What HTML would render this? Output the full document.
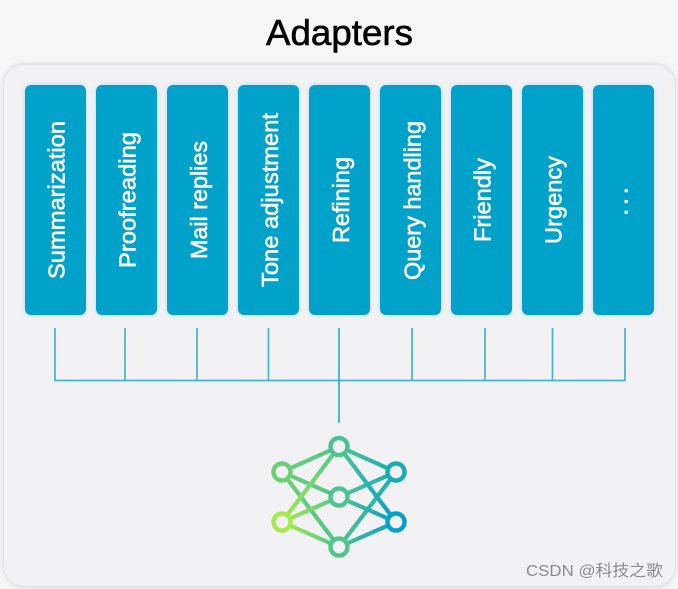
<!DOCTYPE html>
<html><head><meta charset="utf-8"><style>
html,body{margin:0;padding:0;background:#f6f6f6}
svg{display:block}
text{font-family:"Liberation Sans",sans-serif}
</style></head><body>
<svg width="678" height="589" viewBox="0 0 678 589" xmlns="http://www.w3.org/2000/svg">
<defs>
<filter id="ps" x="-5%" y="-5%" width="110%" height="110%"><feGaussianBlur stdDeviation="2.5"/></filter>
<filter id="cs" x="-20%" y="-5%" width="140%" height="110%"><feGaussianBlur stdDeviation="2.5"/></filter>
<linearGradient id="a" gradientUnits="userSpaceOnUse" x1="282" y1="0" x2="339" y2="0"><stop offset="0" stop-color="#6ccf75"/><stop offset="1" stop-color="#4fc490"/></linearGradient>
<linearGradient id="b" gradientUnits="userSpaceOnUse" x1="282" y1="0" x2="339" y2="0"><stop offset="0" stop-color="#a6ea4e"/><stop offset="1" stop-color="#4fc490"/></linearGradient>
<linearGradient id="c" gradientUnits="userSpaceOnUse" x1="339" y1="0" x2="396" y2="0"><stop offset="0" stop-color="#4fc490"/><stop offset="1" stop-color="#19acb5"/></linearGradient>
<linearGradient id="d" gradientUnits="userSpaceOnUse" x1="339" y1="0" x2="396" y2="0"><stop offset="0" stop-color="#4fc490"/><stop offset="1" stop-color="#05a0c6"/></linearGradient>
</defs>
<rect width="678" height="589" fill="#f6f6f6"/>
<rect x="3.500" y="64" width="672" height="523" rx="21" fill="#c4c4c4" opacity=".7" filter="url(#ps)"/>
<rect x="4" y="65" width="671" height="521" rx="20" fill="#f2f2f5"/>
<g fill="#a8d4f2" opacity=".85" filter="url(#cs)">
<rect x="25" y="85" width="61" height="230" rx="6"/><rect x="96" y="85" width="61" height="230" rx="6"/><rect x="167" y="85" width="61" height="230" rx="6"/><rect x="238" y="85" width="61" height="230" rx="6"/><rect x="309" y="85" width="61" height="230" rx="6"/><rect x="380" y="85" width="61" height="230" rx="6"/><rect x="451" y="85" width="61" height="230" rx="6"/><rect x="522" y="85" width="61" height="230" rx="6"/><rect x="593" y="85" width="61" height="230" rx="6"/>
</g>
<g fill="#01a2ca">
<rect x="25" y="85" width="61" height="230" rx="6"/><rect x="96" y="85" width="61" height="230" rx="6"/><rect x="167" y="85" width="61" height="230" rx="6"/><rect x="238" y="85" width="61" height="230" rx="6"/><rect x="309" y="85" width="61" height="230" rx="6"/><rect x="380" y="85" width="61" height="230" rx="6"/><rect x="451" y="85" width="61" height="230" rx="6"/><rect x="522" y="85" width="61" height="230" rx="6"/><rect x="593" y="85" width="61" height="230" rx="6"/>
</g>
<text x="266" y="45" font-size="36.500" fill="#000" stroke="#000" stroke-width=".6" textLength="147" lengthAdjust="spacingAndGlyphs">Adapters</text>
<g fill="#fff" stroke="#fff" stroke-width=".55" font-size="23">
<text transform="translate(64.500 279) rotate(-90)" textLength="158" lengthAdjust="spacingAndGlyphs">Summarization</text>
<text transform="translate(135.500 268) rotate(-90)" textLength="136" lengthAdjust="spacingAndGlyphs">Proofreading</text>
<text transform="translate(207 259) rotate(-90)" textLength="118" lengthAdjust="spacingAndGlyphs">Mail replies</text>
<text transform="translate(278 287) rotate(-90)" textLength="174" lengthAdjust="spacingAndGlyphs">Tone adjustment</text>
<text transform="translate(349 243) rotate(-90)" textLength="86" lengthAdjust="spacingAndGlyphs">Refining</text>
<text transform="translate(420.500 280) rotate(-90)" textLength="159" lengthAdjust="spacingAndGlyphs">Query handling</text>
<text transform="translate(490.500 242) rotate(-90)" textLength="84" lengthAdjust="spacingAndGlyphs">Friendly</text>
<text transform="translate(561.500 244) rotate(-90)" textLength="88" lengthAdjust="spacingAndGlyphs">Urgency</text>
<text transform="translate(627.500 215.500) rotate(-90)" textLength="28" lengthAdjust="spacing" stroke-width="1">. . .</text>
</g>
<g stroke="#43b3d3" stroke-width="1.700" fill="none">
<path d="M55 328V380.500H625V328M125 328V380M197 328V380M268.500 328V380M412 328V380M485 328V380M552.500 328V380"/>
<path d="M339 328V423" stroke-width="1.900"/>
</g>
<g stroke-width="4.200" fill="none">
<path stroke="url(#a)" d="M282 472L339 446.500M282 472L339 497M282 472L339 547"/>
<path stroke="url(#b)" d="M282 522L339 446.500M282 522L339 497M282 522L339 547"/>
<path stroke="url(#c)" d="M396 472L339 446.500M396 472L339 497M396 472L339 547"/>
<path stroke="url(#d)" d="M396 522L339 446.500M396 522L339 497M396 522L339 547"/>
</g>
<g stroke-width="4.400" fill="#f2f2f5">
<circle cx="339" cy="446.500" r="8.500" stroke="#4cc193"/><circle cx="282" cy="472" r="8.500" stroke="#6ccf75"/><circle cx="396" cy="472" r="8.500" stroke="#19acb5"/><circle cx="339" cy="497" r="8.500" stroke="#4fc490"/><circle cx="282" cy="522" r="8.500" stroke="#a6ea4e"/><circle cx="396" cy="522" r="8.500" stroke="#05a0c6"/><circle cx="339" cy="547" r="8.500" stroke="#52c68c"/>
</g>
<text x="526" y="576" font-size="16" fill="#8c8c8c" style='font-family:"Liberation Sans","Noto Sans CJK SC",sans-serif' textLength="137" lengthAdjust="spacingAndGlyphs">CSDN @科技之歌</text>
</svg>
</body></html>
